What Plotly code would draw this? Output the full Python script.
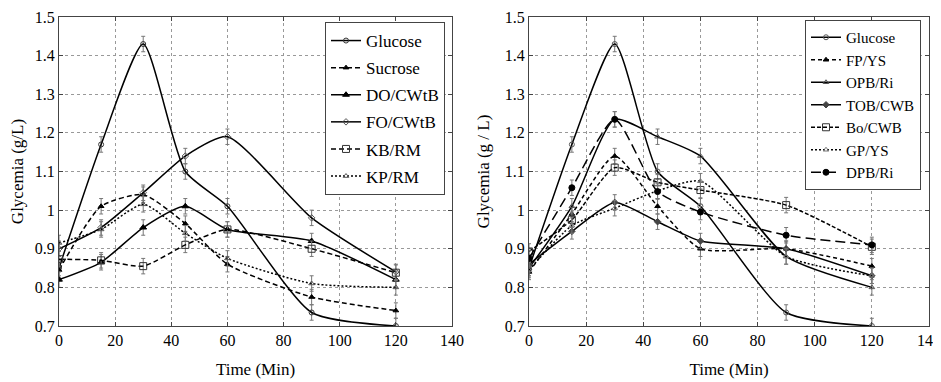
import plotly.graph_objects as go

time = [0, 15, 30, 45, 60, 90, 120]

# Left panel
L_glucose = [0.85, 1.17, 1.43, 1.10, 1.01, 0.735, 0.70]
L_sucrose = [0.845, 1.01, 1.04, 0.965, 0.86, 0.775, 0.74]
L_do_cwtb = [0.82, 0.865, 0.955, 1.01, 0.95, 0.92, 0.82]
L_fo_cwtb = [0.90, 0.955, 1.045, 1.14, 1.19, 0.98, 0.84]
L_kb_rm = [0.873, 0.87, 0.855, 0.91, 0.95, 0.90, 0.838]
L_kp_rm = [0.915, 0.95, 1.015, 0.94, 0.875, 0.81, 0.80]

# Right panel
R_glucose = [0.85, 1.17, 1.43, 1.10, 1.01, 0.735, 0.70]
R_fp_ys = [0.84, 0.99, 1.14, 1.01, 0.90, 0.90, 0.855]
R_opb_ri = [0.85, 1.01, 1.235, 1.19, 1.14, 0.88, 0.80]
R_tob_cwb = [0.86, 0.945, 1.02, 0.97, 0.92, 0.90, 0.83]
R_bo_cwb = [0.893, 0.975, 1.11, 1.072, 1.052, 1.013, 0.905]
R_gp_ys = [0.845, 0.96, 1.005, 1.05, 1.075, 0.88, 0.83]
R_dpb_ri = [0.875, 1.058, 1.235, 1.048, 0.995, 0.935, 0.91]

err = 0.02

y_ticks = [0.7, 0.8, 0.9, 1.0, 1.1, 1.2, 1.3, 1.4, 1.5]
y_ticktext = ["0.7", "0.8", "0.9", "1", "1.1", "1.2", "1.3", "1.4", "1.5"]
x_ticks = [0, 20, 40, 60, 80, 100, 120, 140]

FONT = "Liberation Serif"

left_series = [
    ("Glucose", L_glucose, "solid", "circle-open", 5, "#333"),
    ("Sucrose", L_sucrose, "5px,3px", "triangle-up", 5, "black"),
    ("DO/CWtB", L_do_cwtb, "solid", "triangle-up", 6, "black"),
    ("FO/CWtB", L_fo_cwtb, "solid", "diamond-open", 5, "#555"),
    ("KB/RM", L_kb_rm, "5px,3px", "square-open", 7, "#333"),
    ("KP/RM", L_kp_rm, "2px,2px", "triangle-up-open", 5, "#555"),
]
right_series = [
    ("Glucose", R_glucose, "solid", "circle-open", 5, "#555"),
    ("FP/YS", R_fp_ys, "4px,3px", "triangle-up", 5, "black"),
    ("OPB/Ri", R_opb_ri, "solid", "triangle-up-open", 5, "#555"),
    ("TOB/CWB", R_tob_cwb, "solid", "diamond", 5, "#444"),
    ("Bo/CWB", R_bo_cwb, "4px,2px", "square-open", 7, "#333"),
    ("GP/YS", R_gp_ys, "2px,2px", "triangle-up-open", 5, "#777"),
    ("DPB/Ri", R_dpb_ri, "10px,5px", "circle", 6, "black"),
]

fig = go.Figure()

def add(series, xa, ya, legend):
    for i, (name, vals, dash, sym, size, mcol) in enumerate(series):
        fig.add_trace(go.Scatter(
            x=time, y=vals, name=name, mode="lines+markers",
            xaxis=xa, yaxis=ya, legend=legend,
            legendgroup=legend + str(i),
            line=dict(color="black", width=1.5, dash=dash, shape="spline", smoothing=0.6),
            marker=dict(symbol=sym, size=size, color=mcol, line=dict(color=mcol, width=1)),
            error_y=dict(type="constant", value=err, color="#777", thickness=1, width=2),
        ))

add(left_series, "x", "y", "legend")
add(right_series, "x2", "y2", "legend2")

# page body has an 8px margin; figure pixel = screen pixel - 8
W, H = 933, 374
OFF = 8
def px_x(p):
    return (p - OFF) / W
def px_y(p):
    return 1 - (p - OFF) / H

ydom = [px_y(326), px_y(17)]
axis_common = dict(
    showline=True, linecolor="#444", linewidth=1, mirror="ticks",
    ticks="inside", ticklen=4, tickcolor="#444", automargin=False,
    ticklabeloverflow="allow",
    showgrid=True, gridcolor="#999", griddash="dot", gridwidth=1,
    zeroline=False, tickfont=dict(family=FONT, size=16, color="black"),
)
title_font = dict(family=FONT, size=17, color="black")

fig.update_layout(
    width=W, height=H,
    margin=dict(l=0, r=0, t=0, b=0, autoexpand=False),
    paper_bgcolor="white", plot_bgcolor="white",
    font=dict(family=FONT, size=16, color="black"),
    showlegend=True,
    xaxis=dict(domain=[px_x(59), px_x(452)], range=[0, 140], tickvals=x_ticks,
               title=dict(text="Time (Min)", font=title_font, standoff=14),
               anchor="y", **axis_common),
    yaxis=dict(domain=ydom, range=[0.7, 1.5], tickvals=y_ticks, ticktext=y_ticktext,
               title=dict(text="Glycemia (g/L)", font=title_font, standoff=10),
               anchor="x", **axis_common),
    xaxis2=dict(domain=[px_x(529), px_x(929)], range=[0, 140], tickvals=x_ticks,
                title=dict(text="Time (Min)", font=title_font, standoff=14),
                anchor="y2", **axis_common),
    yaxis2=dict(domain=ydom, range=[0.7, 1.5], tickvals=y_ticks, ticktext=y_ticktext,
                title=dict(text="Glycemia (g / L)", font=title_font, standoff=10),
                anchor="x2", **axis_common),
    legend=dict(x=px_x(325), y=px_y(22), xanchor="left", yanchor="top",
                bgcolor="white", bordercolor="#444", borderwidth=1,
                font=dict(family=FONT, size=17), traceorder="grouped", tracegroupgap=2),
    legend2=dict(x=px_x(805), y=px_y(20), xanchor="left", yanchor="top",
                 bgcolor="white", bordercolor="#444", borderwidth=1,
                 font=dict(family=FONT, size=15), traceorder="grouped", tracegroupgap=0),
)

fig.write_html("out.html")
